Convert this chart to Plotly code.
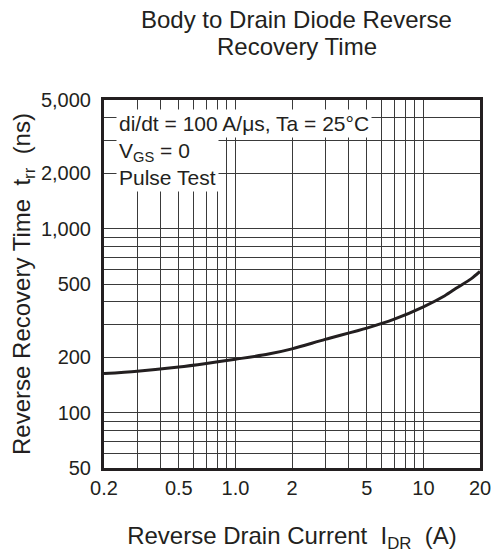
import plotly.graph_objects as go

# Data
current_a = [0.2, 0.3, 0.5, 0.7, 1.0, 1.5, 2.0, 3.0, 5.0, 7.0, 10.0, 13.0, 15.0, 18.0, 20.0]
trr_ns = [163, 168, 177, 185, 195, 208, 222, 250, 288, 322, 376, 432, 475, 535, 585]

x_grid = [0.2, 0.3, 0.4, 0.5, 0.6, 0.7, 0.8, 0.9, 1, 2, 3, 4, 5, 6, 7, 8, 9, 10, 20]
x_labels = {0.2: "0.2", 0.5: "0.5", 1: "1.0", 2: "2", 5: "5", 10: "10", 20: "20"}
y_grid = [50, 60, 70, 80, 90, 100, 200, 300, 400, 500, 600, 700, 800, 900, 1000,
          2000, 3000, 4000, 5000]
y_labels = {50: "50", 100: "100", 200: "200", 500: "500", 1000: "1,000",
            2000: "2,000", 5000: "5,000"}
title_lines = ["Body to Drain Diode Reverse", "Recovery Time"]

FONT = "Liberation Sans"
INK = "#231f20"

# plot area in pixels: x 104..490, y 100..468
def px_x(p):
    return (p - 104) / 386

def px_y(p):
    return (468 - p) / 368

fig = go.Figure()
fig.add_trace(go.Scatter(x=current_a, y=trr_ns, mode="lines",
                         line=dict(color=INK, width=3, shape="spline", smoothing=0.8),
                         showlegend=False, hoverinfo="skip"))

fig.update_layout(
    width=503, height=558,
    margin=dict(l=104, r=13, t=100, b=90),
    paper_bgcolor="white", plot_bgcolor="white",
    font=dict(family=FONT, color=INK, size=20),
    xaxis=dict(type="log", range=[-0.69897, 1.30103],
               tickvals=x_grid, ticktext=[x_labels.get(v, "") for v in x_grid],
               showgrid=True, gridcolor="#3a3a3a", gridwidth=1,
               showline=True, linecolor=INK, linewidth=3, mirror=True,
               ticks="", zeroline=False, tickfont=dict(size=20, family=FONT),
               title=dict(text="Reverse Drain Current  I<sub>DR</sub>  (A)",
                          font=dict(size=24, family=FONT), standoff=30)),
    yaxis=dict(type="log", range=[1.69897, 3.69897],
               tickvals=y_grid, ticktext=[y_labels.get(v, "") for v in y_grid],
               showgrid=True, gridcolor="#3a3a3a", gridwidth=1,
               showline=True, linecolor=INK, linewidth=3, mirror=True,
               ticks="", zeroline=False, tickfont=dict(size=20, family=FONT),
               ticklabelstandoff=6,
               title=dict(text="Reverse Recovery Time  t<sub>rr</sub>  (ns)",
                          font=dict(size=24, family=FONT), standoff=4)),
)

for i, line in enumerate(title_lines):
    fig.add_annotation(xref="paper", yref="paper", x=px_x(302), y=px_y(19 + 28 * i),
                       xanchor="center", yanchor="middle", showarrow=False,
                       text=line, font=dict(size=24, family=FONT, color=INK))

fig.add_annotation(xref="paper", yref="paper",
                   x=px_x(116), y=px_y(109),
                   xanchor="left", yanchor="top", showarrow=False,
                   text="di/dt = 100 A/\u03bcs, Ta = 25\u00b0C", align="left",
                   bgcolor="white", borderpad=2, font=dict(size=21, family=FONT, color=INK))
fig.add_annotation(xref="paper", yref="paper",
                   x=px_x(116), y=px_y(136),
                   xanchor="left", yanchor="top", showarrow=False,
                   text="V<sub>GS</sub> = 0<br>Pulse Test", align="left",
                   bgcolor="white", borderpad=2, font=dict(size=21, family=FONT, color=INK))

fig.write_html("out.html")
